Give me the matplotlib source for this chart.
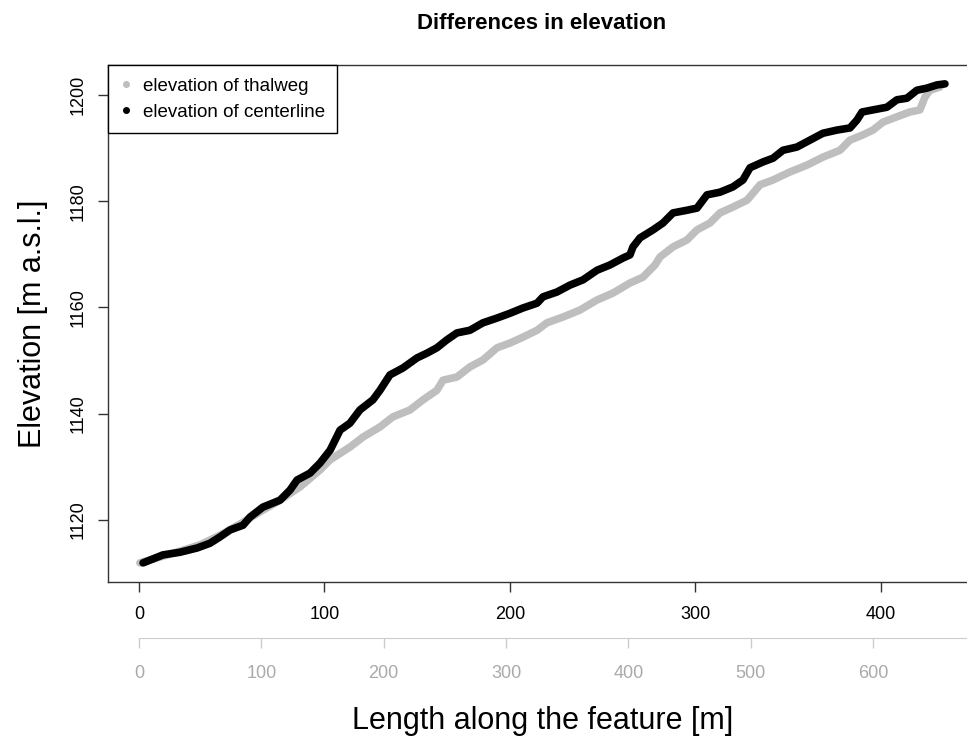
import matplotlib
matplotlib.use('Agg')
import matplotlib.pyplot as plt

plt.rcParams['font.family'] = ['Liberation Sans', 'DejaVu Sans']

# Длина вдоль осевой линии [м] и высоты
centerline_len = [2.2, 12.9, 22.1, 31.3, 38.3, 43.7, 49.1, 56.1, 59.8, 66.8, 76.0, 81.4, 85.2,
                  92.2, 97.6, 103.0, 108.4, 113.7, 119.1, 126.1, 129.9, 135.3, 142.3, 149.9,
                  155.3, 160.6, 166.0, 171.4, 178.4, 185.4, 193.0, 200.0, 207.0, 214.6, 217.8,
                  225.3, 232.3, 239.4, 246.9, 253.9, 260.9, 264.7, 266.3, 270.1, 277.1, 282.5,
                  287.9, 295.4, 300.8, 306.2, 313.2, 320.2, 325.6, 329.4, 336.4, 341.8, 347.2,
                  354.7, 361.7, 368.7, 376.3, 383.3, 387.1, 389.8, 395.7, 403.2, 408.6, 414.0,
                  419.4, 424.8, 430.2, 434.5]
centerline_elev = [1111.9, 1113.4, 1113.9, 1114.7, 1115.6, 1116.8, 1118.1, 1119.0, 1120.5,
                   1122.4, 1123.7, 1125.6, 1127.5, 1128.8, 1130.7, 1133.1, 1136.9, 1138.2,
                   1140.7, 1142.6, 1144.4, 1147.3, 1148.6, 1150.5, 1151.4, 1152.4, 1153.9,
                   1155.2, 1155.7, 1157.1, 1158.0, 1158.9, 1159.9, 1160.8, 1162.0, 1162.9,
                   1164.2, 1165.2, 1167.0, 1168.0, 1169.3, 1169.9, 1171.4, 1173.1, 1174.6,
                   1175.9, 1177.8, 1178.3, 1178.7, 1181.2, 1181.7, 1182.7, 1184.0, 1186.3,
                   1187.4, 1188.1, 1189.6, 1190.2, 1191.5, 1192.8, 1193.4, 1193.8, 1195.3,
                   1196.8, 1197.2, 1197.7, 1199.1, 1199.4, 1200.9, 1201.3, 1201.9, 1202.1]

thalweg_len = [0.5, 11.3, 22.1, 32.9, 43.7, 54.4, 65.2, 76.0, 86.8, 97.6, 103.0, 113.7, 120.8,
               129.9, 136.9, 146.1, 153.1, 160.6, 163.9, 171.4, 178.4, 185.4, 193.0, 200.0,
               207.0, 214.6, 219.9, 228.6, 237.7, 246.9, 255.5, 264.7, 271.7, 278.2, 280.9,
               287.9, 295.4, 300.8, 307.8, 313.2, 320.2, 327.8, 331.0, 334.8, 341.8, 350.9,
               360.1, 368.7, 377.9, 383.3, 390.3, 395.7, 401.1, 408.6, 415.6, 421.0, 423.7,
               426.4, 431.8]
thalweg_elev = [1111.9, 1113.0, 1114.1, 1115.3, 1117.1, 1119.2, 1121.5, 1123.7, 1126.2, 1129.4,
                1131.3, 1133.7, 1135.6, 1137.5, 1139.4, 1140.7, 1142.6, 1144.4, 1146.3, 1146.9,
                1148.8, 1150.1, 1152.4, 1153.3, 1154.4, 1155.7, 1157.1, 1158.2, 1159.5, 1161.4,
                1162.7, 1164.6, 1165.7, 1168.0, 1169.5, 1171.4, 1172.7, 1174.6, 1175.9, 1177.8,
                1178.9, 1180.2, 1181.5, 1183.1, 1184.0, 1185.5, 1186.8, 1188.3, 1189.6, 1191.5,
                1192.5, 1193.4, 1194.9, 1195.9, 1196.8, 1197.2, 1199.6, 1200.9, 1201.5]

x_ticks = [0, 100, 200, 300, 400]
thalweg_ticks = [0, 100, 200, 300, 400, 500, 600]
y_ticks = [1120, 1140, 1160, 1180, 1200]
len_ratio = 1.516  # длина тальвега / длина осевой линии

fig = plt.figure(figsize=(9.67, 7.43), dpi=100)
# правая граница рамки уходит за край рисунка, как в оригинале
ax = fig.add_axes([0.1117, 0.2167, 0.9121, 0.6958])

ax.plot(thalweg_len, thalweg_elev, color='#bebebe', lw=5.5, solid_capstyle='round',
        solid_joinstyle='round', zorder=2)
ax.plot(centerline_len, centerline_elev, color='black', lw=5.5, solid_capstyle='round',
        solid_joinstyle='round', zorder=3)

ax.set_xlim(-16.7, 458.8)
ax.set_ylim(1108.3, 1205.65)
for s in ax.spines.values():
    s.set_color('#333333')
    s.set_linewidth(1)

ax.set_xticks(x_ticks)
ax.set_yticks(y_ticks)
ax.tick_params(direction='out', length=7.2, width=1, labelsize=13, color='#333333')
ax.tick_params(axis='x', pad=10)
ax.tick_params(axis='y', pad=8)
for lab in ax.get_yticklabels():
    lab.set_rotation(90)
    lab.set_va('center')

# вторая ось — длина по тальвегу
sec = ax.secondary_xaxis(-0.1083, functions=(lambda x: x * len_ratio, lambda x: x / len_ratio))
sec.set_xticks(thalweg_ticks)
sec.spines['bottom'].set_color('#cccccc')
sec.spines['bottom'].set_bounds(0, 720)
sec.tick_params(direction='out', length=7.2, width=1, labelsize=13, color='#cccccc',
                labelcolor='#aaaaaa', pad=12)

ax.set_ylabel('Elevation [m a.s.l.]', fontsize=22, labelpad=16)
fig.text(0.5607, 0.029, 'Length along the feature [m]', fontsize=22, ha='center', va='center')
fig.text(0.5597, 0.968, 'Differences in elevation', fontsize=16, fontweight='bold',
         ha='center', va='center')

h1, = ax.plot([], [], 'o', color='#bebebe', ms=4)
h2, = ax.plot([], [], 'o', color='black', ms=4)
leg = ax.legend([h1, h2], ['elevation of thalweg', 'elevation of centerline'],
                loc='upper left', borderaxespad=0, fancybox=False, framealpha=1,
                edgecolor='black', fontsize=13.5, handlelength=0.6, handletextpad=0.6,
                labelspacing=0.48, borderpad=0.66)
leg.get_frame().set_linewidth(1)

fig.savefig('out.png', dpi=100)
